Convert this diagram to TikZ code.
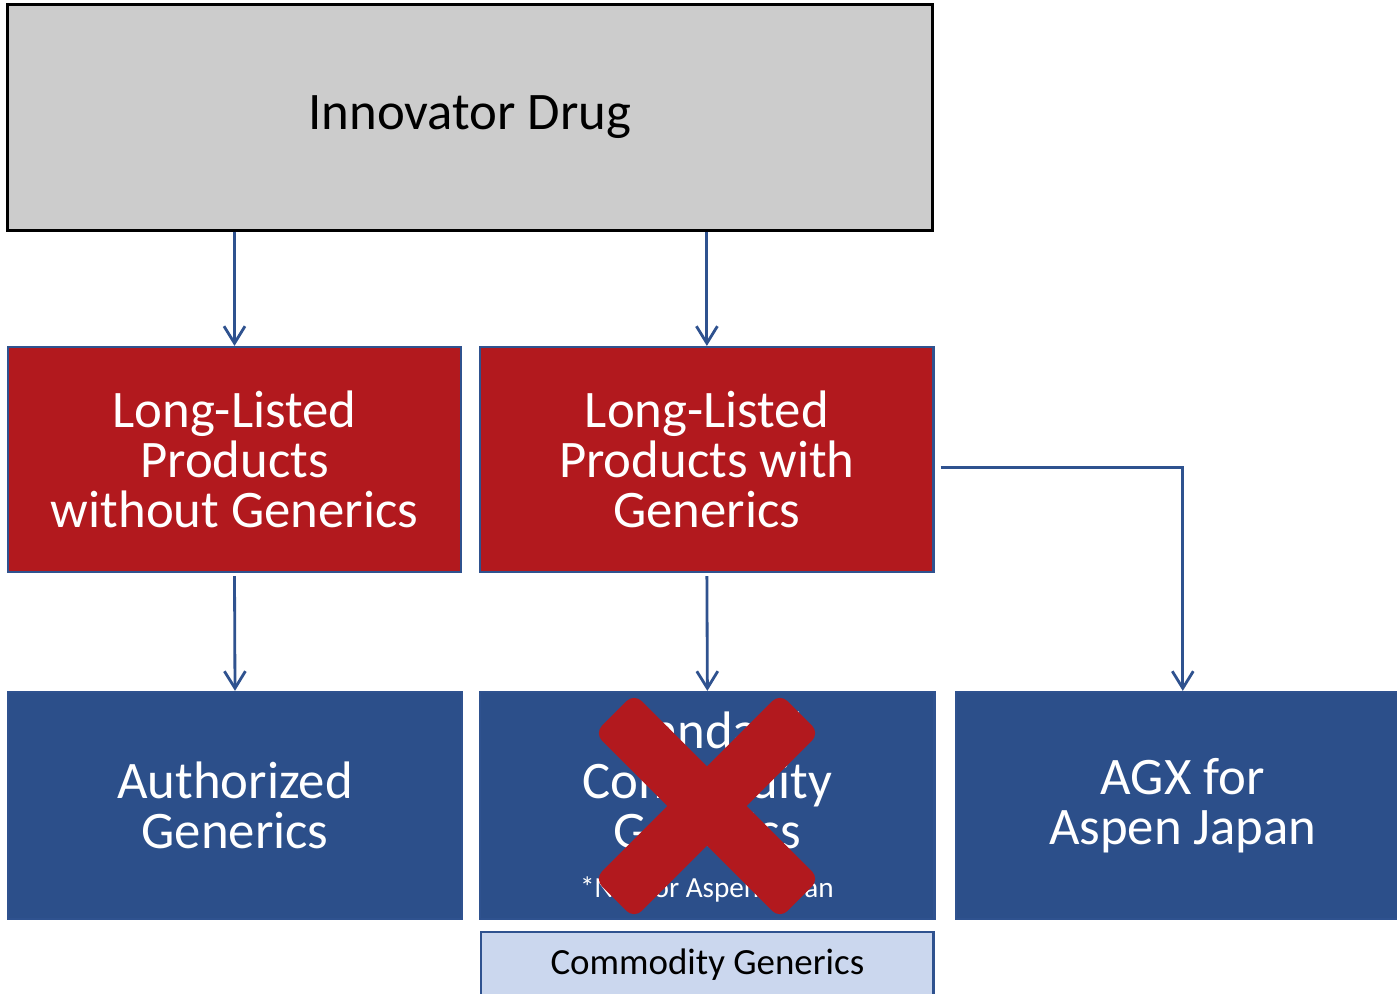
\documentclass[tikz,border=0pt]{standalone}
\usepackage{fontspec}
\setmainfont{Carlito}
\usepackage{xcolor}
\usepackage{tikz}
\usetikzlibrary{
  arrows.meta,
  positioning,
  calc
}
\definecolor{agGray}{HTML}{CCCCCC}
\definecolor{agRed}{HTML}{B2191E}
\definecolor{agNavy}{HTML}{2C4F8A}
\definecolor{agEdge}{HTML}{2F528F}
\definecolor{agPale}{HTML}{CBD7EE}
\tikzset{
  agnode/.style={
    draw, rectangle, align=center, inner sep=0pt,
    font=\fontsize{15}{14.2}\selectfont
  },
  drugbox/.style={agnode, fill=agGray, draw=black, line width=0.85pt,
    minimum width=9.24cm, minimum height=2.25cm},
  llpbox/.style={agnode, fill=agRed, draw=agEdge, line width=0.6pt, text=white,
    minimum width=4.53cm, minimum height=2.25cm},
  genbox/.style={agnode, fill=agNavy, draw=agEdge, line width=0.6pt, text=white,
    minimum width=4.54cm, minimum height=2.27cm},
  palebox/.style={agnode, fill=agPale, draw=agEdge, line width=0.6pt,
    minimum width=4.52cm, minimum height=0.65cm, font=\fontsize{10.5}{12}\selectfont},
  gentext/.style={align=center, text=white, inner sep=0pt, font=\fontsize{15}{14.2}\selectfont},
  notetext/.style={text=white, inner sep=0pt, font=\fontsize{8.3}{10}\selectfont},
  xbar/.style={fill=agRed, rounded corners=3pt, minimum width=2.62cm, minimum height=0.56cm, inner sep=0pt},
  link/.style={-{Straight Barb[length=1.7mm, width=2.1mm]}, line width=0.8pt, agEdge}
}

\begin{document}
\begin{tikzpicture}[x=0.01cm, y=-0.01cm, node distance=1.2cm and 0.17cm]
  \useasboundingbox (0,0) rectangle (1397,993);
  \node[drugbox] (innov) at (470,117.5) {Innovator Drug};
  \node[llpbox] (llpwo) at (234.5,459.5) {Long-Listed\\Products\\without Generics};
  \node[llpbox, right=of llpwo] (llpw) {Long-Listed\\Products with\\Generics};
  \node[genbox] (ag) at (235,805.5) {Authorized\\Generics};
  \node[genbox, right=0.16cm of ag] (std) {};
  \node[genbox, right=0.19cm of std] (agx) {AGX for\\Aspen Japan};
  \node[palebox, below=0.11cm of std] (cg) {Commodity Generics};
  % crossed-out box
  \node[gentext] (stdtxt) at ([yshift=0.25cm]std.center) {Standard\\Commodity\\Generics};
  \node[notetext] (stdnote) at (707,889) {*Not for Aspen Japan};
  \node[xbar, rotate=-45] (xa) at (707,806) {};
  \node[xbar, rotate=45] (xb) at (707,806) {};
  \draw[link] (llpwo.north |- innov.south) -- (llpwo.north);
  \draw[link] (llpw.north |- innov.south) -- (llpw.north);
  \draw[link] ([yshift=-0.03cm]llpwo.south) -- (ag.north);
  \draw[link] ([yshift=-0.03cm]llpw.south) -- (std.north);
  \draw[link] ([shift={(6,8)}]llpw.east) -| (agx.north);
\end{tikzpicture}
\end{document}
